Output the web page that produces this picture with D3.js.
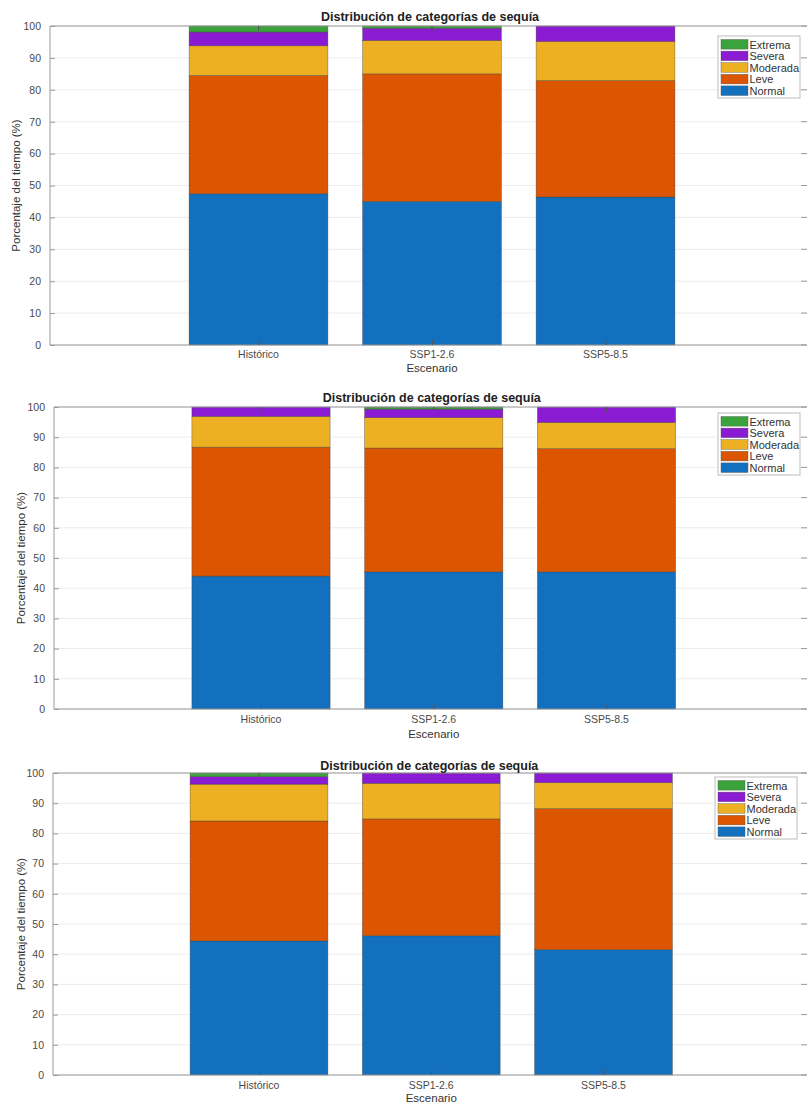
<!DOCTYPE html>
<html>
<head>
<meta charset="utf-8">
<script src="https://cdn.jsdelivr.net/npm/d3@7"></script>
<style>
  html, body { margin: 0; padding: 0; background: #fff; }
  svg { display: block; font-family: "Liberation Sans", Arial, Helvetica, sans-serif; }
</style>
</head>
<body>
<svg id="chart" width="807" height="1104"></svg>
<script>
// ---------- data ----------
const scenarios = ["Histórico", "SSP1-2.6", "SSP5-8.5"];
const categories = ["Normal", "Leve", "Moderada", "Severa", "Extrema"];
const yTicks = [0, 10, 20, 30, 40, 50, 60, 70, 80, 90, 100];
const titleText = "Distribución de categorías de sequía";
const xLabelText = "Escenario";
const yLabelText = "Porcentaje del tiempo (%)";

// Panel 1 (top)
const p1Normal   = [47.4, 45.0, 46.4];
const p1Leve     = [37.1, 40.0, 36.5];
const p1Moderada = [9.3, 10.5, 12.3];
const p1Severa   = [4.3, 3.8, 4.8];
const p1Extrema  = [1.9, 0.7, 0.0];

// Panel 2 (middle)
const p2Normal   = [44.0, 45.4, 45.4];
const p2Leve     = [42.7, 41.0, 40.8];
const p2Moderada = [10.2, 10.1, 8.7];
const p2Severa   = [3.1, 2.8, 5.1];
const p2Extrema  = [0.0, 0.7, 0.0];

// Panel 3 (bottom)
const p3Normal   = [44.4, 46.1, 41.5];
const p3Leve     = [39.7, 38.7, 46.7];
const p3Moderada = [12.2, 11.8, 8.6];
const p3Severa   = [2.5, 3.4, 3.2];
const p3Extrema  = [1.2, 0.0, 0.0];

const panelData = [
  [p1Normal, p1Leve, p1Moderada, p1Severa, p1Extrema],
  [p2Normal, p2Leve, p2Moderada, p2Severa, p2Extrema],
  [p3Normal, p3Leve, p3Moderada, p3Severa, p3Extrema]
];

// ---------- styles / layout ----------
const colors = {
  Normal: "#1270bf",
  Leve: "#dc5500",
  Moderada: "#ecb022",
  Severa: "#8a1bd2",
  Extrema: "#3ba33b"
};

const layouts = [
  { left: 50, right: 807, top: 26,  bottom: 345,  c0: 258.5, c2: 605.5, titleY: 21,  tickY: 358,  xLabY: 372,  yLabX: 20, legX: 718, legY: 36 },
  { left: 54, right: 807, top: 407, bottom: 709,  c0: 261,   c2: 606.5, titleY: 402, tickY: 723,  xLabY: 738,  yLabX: 25, legX: 718, legY: 413 },
  { left: 53, right: 807, top: 773, bottom: 1075, c0: 259,   c2: 603.5, titleY: 770, tickY: 1089, xLabY: 1102, yLabX: 25, legX: 715, legY: 777 }
];

const svg = d3.select("#chart");
const axisColor = "#9a9a9a";
const textColor = "#4a4a4a";

panelData.forEach((series, pi) => {
  const L = layouts[pi];
  const rows = scenarios.map((s, i) => {
    const o = { scenario: s, idx: i };
    categories.forEach((c, ci) => { o[c] = series[ci][i]; });
    return o;
  });

  const x = d3.scaleLinear().domain([0, 2]).range([L.c0, L.c2]);
  const step = x(1) - x(0);
  const barW = step * 0.8;
  const y = d3.scaleLinear().domain([0, 100]).range([L.bottom, L.top]);

  const g = svg.append("g");

  // grid
  g.append("g").selectAll("line").data(yTicks).join("line")
    .attr("x1", L.left).attr("x2", L.right)
    .attr("y1", d => y(d)).attr("y2", d => y(d))
    .attr("stroke", "#ececec").attr("stroke-width", 1);

  // bars
  const stack = d3.stack().keys(categories)(rows);
  g.append("g").selectAll("g").data(stack).join("g")
    .attr("fill", d => colors[d.key])
    .selectAll("rect").data(d => d.filter(v => v[1] - v[0] > 0)).join("rect")
    .attr("x", d => x(d.data.idx) - barW / 2)
    .attr("width", barW)
    .attr("y", d => y(d[1]))
    .attr("height", d => y(d[0]) - y(d[1]))
    .attr("stroke", "#3a3a3a")
    .attr("stroke-opacity", 0.6)
    .attr("stroke-width", 0.6);

  // axes box lines
  g.append("line").attr("x1", L.left).attr("x2", L.right).attr("y1", L.top).attr("y2", L.top)
    .attr("stroke", axisColor).attr("stroke-width", 1);
  g.append("line").attr("x1", L.left).attr("x2", L.right).attr("y1", L.bottom).attr("y2", L.bottom)
    .attr("stroke", axisColor).attr("stroke-width", 1);
  g.append("line").attr("x1", L.left).attr("x2", L.left).attr("y1", L.top).attr("y2", L.bottom)
    .attr("stroke", axisColor).attr("stroke-width", 1);

  // y axis (left) using d3 axis
  const yAxis = d3.axisLeft(y).tickValues(yTicks).tickSize(-5).tickPadding(9).tickFormat(d3.format("d"));
  const ya = g.append("g").attr("transform", `translate(${L.left},0)`).call(yAxis);
  ya.select(".domain").remove();
  ya.selectAll(".tick line").attr("stroke", axisColor);
  ya.selectAll(".tick text").attr("fill", textColor).style("font-size", "10.5px")
    .style("font-family", "'Liberation Sans', Arial, sans-serif");

  // right ticks
  g.append("g").selectAll("line").data(yTicks).join("line")
    .attr("x1", L.right - 6).attr("x2", L.right)
    .attr("y1", d => y(d)).attr("y2", d => y(d))
    .attr("stroke", axisColor);

  // x axis
  const xAxis = d3.axisBottom(x).tickValues([0, 1, 2]).tickSize(-5).tickPadding(8)
    .tickFormat(i => scenarios[i]);
  const xa = g.append("g").attr("transform", `translate(0,${L.bottom})`).call(xAxis);
  xa.select(".domain").remove();
  xa.selectAll(".tick line").attr("stroke", "#555");
  xa.selectAll(".tick text").remove();
  g.append("g").selectAll("text").data(scenarios).join("text")
    .attr("x", (d, i) => x(i)).attr("y", L.tickY)
    .attr("text-anchor", "middle")
    .attr("fill", textColor).style("font-size", "10.5px")
    .text(d => d);

  // top ticks
  g.append("g").selectAll("line").data([0, 1, 2]).join("line")
    .attr("x1", d => x(d)).attr("x2", d => x(d))
    .attr("y1", L.top).attr("y2", L.top + 5)
    .attr("stroke", "#555");

  // title
  g.append("text").attr("x", (L.c0 + L.c2) / 2 - 2).attr("y", L.titleY)
    .attr("text-anchor", "middle").attr("fill", "#222")
    .style("font-size", "12.5px").style("font-weight", "bold")
    .text(titleText);

  // x label
  g.append("text").attr("x", x(1)).attr("y", L.xLabY)
    .attr("text-anchor", "middle").attr("fill", "#333").style("font-size", "11.5px")
    .text(xLabelText);

  // y label
  g.append("text")
    .attr("transform", `translate(${L.yLabX},${(L.top + L.bottom) / 2}) rotate(-90)`)
    .attr("text-anchor", "middle").attr("fill", "#333").style("font-size", "11.5px")
    .text(yLabelText);

  // legend
  const legCats = categories.slice().reverse();
  const rowH = 11.6;
  const lg = g.append("g").attr("transform", `translate(${L.legX},${L.legY})`);
  lg.append("rect").attr("x", 0).attr("y", 0).attr("width", 82).attr("height", 62)
    .attr("fill", "#fff").attr("stroke", "#bdbdbd").attr("stroke-width", 1);
  const items = lg.selectAll("g.item").data(legCats).join("g")
    .attr("class", "item")
    .attr("transform", (d, i) => `translate(2,${3 + i * rowH})`);
  items.append("rect").attr("x", 1).attr("y", 0.5).attr("width", 27).attr("height", rowH - 2)
    .attr("fill", d => colors[d]).attr("stroke", "#555").attr("stroke-width", 0.4);
  items.append("text").attr("x", 29.5).attr("y", rowH / 2 + 3.8)
    .attr("fill", "#333").style("font-size", "11px")
    .text(d => d);
});
</script>
</body>
</html>
